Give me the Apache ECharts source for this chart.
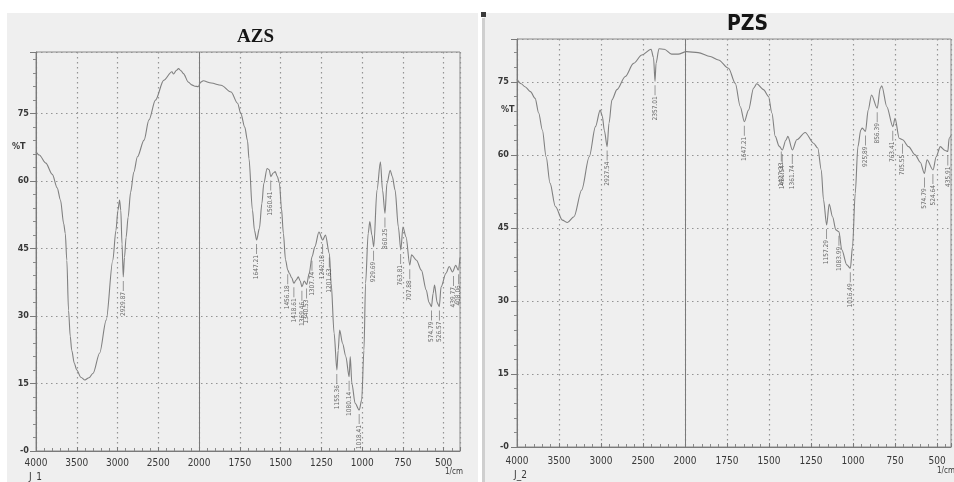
<!DOCTYPE html>
<html>
<head>
<meta charset="utf-8">
<script src="https://cdn.jsdelivr.net/npm/echarts@6/dist/echarts.min.js"></script>
<style>
  html, body { margin: 0; padding: 0; background: #ffffff; }
  #chart { width: 954px; height: 482px; }
</style>
</head>
<body>
<div id="chart"></div>
<script>
// wavenumber ticks (the spectrometer prints 4000-2000 at 500/div, then 250/div)
const xTickWavenumbers = [4000, 3500, 3000, 2500, 2000, 1750, 1500, 1250, 1000, 750, 500];
const yTickLabels = ['-0', '15', '30', '45', '60', '75'];

// AZS spectrum: wavenumber (1/cm) and %T
const azsWavenumber = [4000, 3960, 3880, 3800, 3740, 3700, 3660, 3641, 3622, 3601, 3580, 3562, 3530, 3500, 3450, 3400,
    3350, 3300, 3219, 3139, 3058, 3020, 2995, 2975, 2960, 2945, 2930, 2915, 2895, 2870, 2840, 2800, 2756, 2675, 2615,
    2535, 2434, 2333, 2313, 2280, 2252, 2220, 2192, 2131, 2090, 2052, 2011, 1990, 1975, 1925, 1865, 1804, 1764, 1744,
    1720, 1703, 1694, 1673, 1660, 1647, 1630, 1615, 1603, 1583, 1570, 1560, 1545, 1533, 1520, 1507, 1495, 1483, 1470,
    1456, 1446, 1432, 1419, 1405, 1392, 1380, 1369, 1355, 1340, 1325, 1307, 1290, 1265, 1242, 1225, 1201, 1190, 1172,
    1155, 1147, 1138, 1120, 1100, 1080, 1073, 1063, 1043, 1018, 1003, 989, 979, 963, 953, 940, 929, 909, 888, 875, 860,
    848, 828, 815, 798, 778, 763, 750, 731, 708, 697, 667, 637, 607, 590, 575, 565, 556, 540, 527, 516, 486, 466, 446,
    426, 411, 400];
const azsTransmittance = [66.5, 65.8, 64, 61.5, 58.5, 55.8, 50.5, 48.4, 42.4, 31.3, 25.5, 22.4, 19.5, 18, 16.4, 15.8,
    16.3, 17.3, 21.8, 29.1, 42.4, 49, 53.5, 55.8, 53.5, 46, 38.7, 43, 47.5, 52, 57.5, 62, 65.4, 69.1, 73.6,
    78, 82.4, 84.3, 83.8, 84.6, 85, 84.5, 83.9, 82, 81.4, 81.1, 81, 82, 82.3, 81.8, 81.3, 79.8, 77.3, 75,
    72, 69, 65, 53.6, 49, 46.9, 49.5, 55, 59.5, 62.8, 62.5, 61, 61.8, 62.1, 61, 59.5, 54, 48.4, 42.5,
    40.2, 39.5, 38.5, 37.3, 38, 38.7, 37.8, 36.5, 37.8, 37, 39.5, 43.2, 45.4, 48.7, 46.9, 48, 43.9, 37.3, 26.2,
    18, 22.4, 26.9, 23.9, 21, 16.5, 21, 15, 10.6, 9.1, 11.3, 22.4, 37.3, 48.4, 51, 48, 45.4, 58, 64.3, 58, 52.8,
    59.5, 62.4, 61, 58, 49.8, 44.7, 49.8, 47.6, 41.3, 43.6, 42.4, 40.2, 35.8, 33, 32.1, 35, 36.9, 33, 32.1, 36.5, 39.5, 41, 39.8,
    41.3, 40.2, 43];
const azsPeakLabels = ['2929.87', '1647.21', '1560.41', '1456.18', '1418.61', '1369.46', '1340.53', '1307.74', '1242.18',
    '1201.63', '1155.36', '1080.14', '1018.41', '929.69', '860.25', '763.81', '707.88', '574.79', '526.57', '439.77', '408.06'];
const azsPeakT = [38.7, 46.9, 61, 40.2, 37.3, 36.5, 37, 43.2, 46.9, 43.9, 18, 16.5, 9.1, 45.4, 52.8, 44.7, 41.3, 32.1, 32.1, 39.8, 40.2];

// PZS spectrum
const pzsWavenumber = [4000, 3950, 3905, 3840, 3784, 3742, 3698, 3653, 3607, 3543, 3460, 3400, 3322, 3230, 3140, 3066,
    3010, 2985, 2960, 2927, 2905, 2870, 2810, 2711, 2613, 2514, 2404, 2375, 2357, 2345, 2310, 2247, 2160, 2082, 1991,
    1922, 1850, 1801, 1741, 1701, 1671, 1647, 1622, 1592, 1573, 1533, 1503, 1483, 1463, 1440, 1421, 1400, 1388, 1361,
    1335, 1285, 1235, 1210, 1189, 1176, 1157, 1142, 1122, 1102, 1084, 1067, 1037, 1016, 1003, 987, 971, 954, 945, 926,
    910, 890, 856, 838, 829, 799, 763, 750, 725, 705, 670, 630, 600, 575, 560, 524, 505, 481, 452, 436, 428, 417];
const pzsTransmittance = [75.5, 74.6, 74, 73, 71.6, 68.6, 65.1, 59.6, 54.2, 49.4, 46.6, 46.1, 47.3, 52.8, 59.6, 65.8,
    69.2, 68, 65, 61.7, 66.5, 71.3, 73.4, 76.1, 78.8, 80.5, 81.7, 80, 75.1, 78.8, 81.8, 81.7, 80.7, 80.7, 81.2,
    81, 80.2, 79.5, 77.8, 74.7, 69.9, 66.8, 69.2, 73.7, 74.6, 73.4, 72, 68.6, 63.8, 61.8, 61, 63, 63.8, 61,
    63.1, 64.6, 62.4, 61.4, 56.9, 50.8, 45.6, 49.9, 47.3, 44.6, 44.2, 40.5, 37.4, 36.7, 41.2, 52.1, 61.7, 65.1, 65.5, 64.8,
    69.2, 72.3, 69.6, 73.7, 74.2, 69.9, 65.8, 67.5, 63.4, 63.1, 61.7, 60, 58.5, 56.2, 59, 56.9, 59.6, 61.7, 60.9, 60.7, 63.4, 64];
const pzsPeakLabels = ['2927.54', '2357.01', '1647.21', '1427.33', '1421.54', '1361.74', '1157.29', '1083.99', '1016.49',
    '925.89', '856.39', '763.41', '705.55', '574.79', '524.64', '435.91'];
const pzsPeakT = [61.7, 75.1, 66.8, 61.5, 61, 61, 45.6, 44.2, 36.7, 64.8, 69.6, 65.8, 63.1, 56.2, 56.9, 60.7];

// piecewise wavenumber scale -> axis units (one unit per grid division)
function toU(wn) {
    return wn >= 2000 ? (4000 - wn) / 500 : 4 + (2000 - wn) / 250;
}

const textColor = '#383838';
const lineColor = '#808080';
const narrow = "'Liberation Sans Narrow', 'DejaVu Sans Condensed', sans-serif";

function xAxisFor(gridIndex, maxWn, margin) {
    return {
        gridIndex: gridIndex,
        type: 'value',
        min: 0,
        max: toU(maxWn),
        interval: 1,
        axisLine: { show: true, lineStyle: { color: '#7a7a7a', width: 1 } },
        axisTick: { show: true, inside: true, length: 4, lineStyle: { color: '#7a7a7a' } },
        minorTick: { show: true, splitNumber: 5, length: 3, lineStyle: { color: '#8a8a8a' } },
        axisLabel: {
            margin: margin,
            color: textColor,
            fontSize: 10,
            fontFamily: narrow,
            showMaxLabel: false,
            formatter: (value) => {
                let i = Math.round(value);
                if (Math.abs(value - i) > 1e-6 || i >= xTickWavenumbers.length) return '';
                return String(xTickWavenumbers[i]);
            }
        },
        splitLine: { show: true, lineStyle: { color: '#949494', type: [1.5, 3.5], width: 1.2 } }
    };
}

function yAxisFor(gridIndex, max, margin) {
    return {
        gridIndex: gridIndex,
        type: 'value',
        min: 0,
        max: max,
        interval: 15,
        axisLine: { show: true, lineStyle: { color: '#7a7a7a', width: 1 } },
        axisTick: { show: true, length: 6, lineStyle: { color: '#7a7a7a' } },
        minorTick: { show: true, splitNumber: 5, length: 3, lineStyle: { color: '#8a8a8a' } },
        axisLabel: {
            margin: margin,
            color: textColor,
            fontSize: 9,
            fontWeight: 'bold',
            fontFamily: narrow,
            showMaxLabel: false,
            formatter: (value) => {
                let i = Math.round(value / 15);
                if (Math.abs(value - i * 15) > 1e-6 || i >= yTickLabels.length) return '';
                return yTickLabels[i];
            }
        },
        splitLine: { show: true, lineStyle: { color: '#949494', type: [1.5, 3.5], width: 1.2 } }
    };
}

function spectrumSeries(idx, wns, ts) {
    return {
        type: 'line',
        xAxisIndex: idx,
        yAxisIndex: idx,
        data: wns.map((w, i) => [toU(w), ts[i]]),
        showSymbol: false,
        symbol: 'none',
        smooth: 0.3,
        smoothMonotone: 'x',
        lineStyle: { color: lineColor, width: 1.1 },
        silent: true,
        z: 3,
        markLine: {
            silent: true,
            symbol: ['none', 'none'],
            label: { show: false },
            lineStyle: { color: '#7a7a7a', type: 'solid', width: 1 },
            data: [{ xAxis: toU(2000) }]
        }
    };
}

function peakSeries(idx, labels, ts) {
    return {
        type: 'scatter',
        xAxisIndex: idx,
        yAxisIndex: idx,
        data: labels.map((s, i) => [toU(parseFloat(s)), ts[i], s]),
        symbol: 'rect',
        symbolSize: [0.8, 10],
        symbolOffset: [0, 9],
        itemStyle: { color: '#666666' },
        label: {
            show: true,
            position: 'bottom',
            distance: 1,
            rotate: 90,
            align: 'right',
            verticalAlign: 'middle',
            fontSize: 6.5,
            color: '#444444',
            fontFamily: narrow,
            formatter: (p) => p.data[2]
        },
        silent: true,
        z: 4
    };
}

const chart = echarts.init(document.getElementById('chart'), null, { renderer: 'canvas' });

const option = {
    animation: false,
    backgroundColor: '#ffffff',
    grid: [
        { left: 36, top: 52, width: 424, height: 399, show: true, borderColor: '#8a8a8a', borderWidth: 1 },
        { left: 517, top: 39, width: 434, height: 408, show: true, borderColor: '#8a8a8a', borderWidth: 1 }
    ],
    xAxis: [xAxisFor(0, 400, 7), xAxisFor(1, 417, 9)],
    yAxis: [yAxisFor(0, 88.7, 7), yAxisFor(1, 83.8, 8)],
    graphic: [
        { type: 'rect', z: -10, shape: { x: 7, y: 13, width: 471, height: 469 }, style: { fill: '#efefef' } },
        { type: 'rect', z: -10, shape: { x: 484, y: 13, width: 470, height: 469 }, style: { fill: '#efefef' } },
        { type: 'rect', z: -9, shape: { x: 482, y: 18, width: 3, height: 464 }, style: { fill: '#cfcfcf' } },
        { type: 'rect', z: -9, shape: { x: 481, y: 12, width: 5, height: 5 }, style: { fill: '#3a3a3a' } },
        {
            type: 'text', left: 237, top: 28, z: 10,
            style: { text: 'AZS', font: 'bold 19px "Liberation Serif", serif', fill: '#151515' }
        },
        {
            type: 'text', left: 727, top: 14, z: 10,
            style: { text: 'PZS', font: 'bold 21px ' + narrow, fill: '#151515' }
        },
        { type: 'text', left: 12, top: 142, z: 10, style: { text: '%T', font: 'bold 9px ' + narrow, fill: textColor } },
        { type: 'text', left: 501, top: 105, z: 10, style: { text: '%T', font: 'bold 9px ' + narrow, fill: textColor } },
        { type: 'text', left: 29, top: 472, z: 10, style: { text: 'J_1', font: '10px ' + narrow, fill: textColor } },
        { type: 'text', left: 514, top: 470, z: 10, style: { text: 'J_2', font: '10px ' + narrow, fill: textColor } },
        { type: 'text', left: 445, top: 468, z: 10, style: { text: '1/cm', font: '8px ' + narrow, fill: textColor } },
        { type: 'text', left: 937, top: 467, z: 10, style: { text: '1/cm', font: '8px ' + narrow, fill: textColor } }
    ],
    series: [
        spectrumSeries(0, azsWavenumber, azsTransmittance),
        spectrumSeries(1, pzsWavenumber, pzsTransmittance),
        peakSeries(0, azsPeakLabels, azsPeakT),
        peakSeries(1, pzsPeakLabels, pzsPeakT)
    ]
};

chart.setOption(option);
</script>
</body>
</html>
